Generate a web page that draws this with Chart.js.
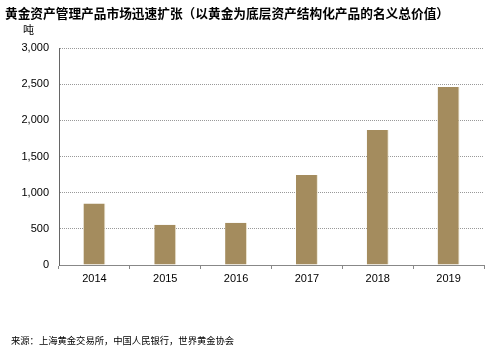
<!DOCTYPE html>
<html><head><meta charset="utf-8">
<script src="https://cdn.jsdelivr.net/npm/chart.js@4/dist/chart.umd.min.js"></script>
<style>
html,body{margin:0;padding:0;background:#fff;width:495px;height:351px;overflow:hidden;}
#wrap{position:absolute;left:0;top:0;width:495px;height:351px;}
.t{position:absolute;white-space:nowrap;color:#000;font-family:"Liberation Sans","Noto Sans CJK SC",sans-serif;}
#title{left:5px;top:3px;font-size:12.7px;font-weight:bold;font-family:"Noto Sans CJK SC",sans-serif;}
#unit{left:23px;top:21px;font-size:11px;font-family:"Noto Sans CJK SC",sans-serif;}
#src{left:11px;top:333px;font-size:9.3px;font-family:"Noto Sans CJK SC",sans-serif;}
</style></head>
<body>
<div id="wrap"><canvas id="c" width="495" height="351"></canvas></div>
<div class="t" id="title">黄金资产管理产品市场迅速扩张（以黄金为底层资产结构化产品的名义总价值）</div>
<div class="t" id="unit">吨</div>
<div class="t" id="src">来源：上海黄金交易所，中国人民银行，世界黄金协会</div>
<script>
const categories = ["2014","2015","2016","2017","2018","2019"];
const values = [850, 555, 585, 1245, 1865, 2460];
const yTicks = [0, 500, 1000, 1500, 2000, 2500, 3000];

new Chart(document.getElementById('c'), {
  type: 'bar',
  data: {
    labels: categories,
    datasets: [{
      data: values,
      backgroundColor: '#A48C5E',
      borderColor: '#EDE6D2',
      borderWidth: {right: 1, left: 0, top: 0, bottom: 0},
      barPercentage: 0.31,
      categoryPercentage: 1.0
    }]
  },
  options: {
    responsive: false,
    animation: false,
    events: [],
    layout: {padding: {left: 0, right: 11, top: 48, bottom: 0}},
    plugins: {legend: {display: false}, tooltip: {enabled: false}, title: {display: false}},
    scales: {
      x: {
        grid: {drawOnChartArea: false, drawTicks: true, tickLength: 4, color: '#888', offset: true},
        border: {color: '#888', width: 1},
        ticks: {color: '#000', font: {family: 'Liberation Sans', size: 11}, padding: 3},
        afterFit: s => { s.height = 86; }
      },
      y: {
        min: 0, max: 3000,
        afterBuildTicks: s => { s.ticks = yTicks.map(v => ({value: v})); },
        grid: {color: '#999', drawTicks: false, lineWidth: 1},
        border: {color: '#666', width: 1, dash: [1, 1]},
        ticks: {color: '#000', font: {family: 'Liberation Sans', size: 11}, padding: 10,
          callback: v => v.toLocaleString('en-US')},
        afterFit: s => { s.width = 59; }
      }
    }
  }
});
</script>
</body></html>
